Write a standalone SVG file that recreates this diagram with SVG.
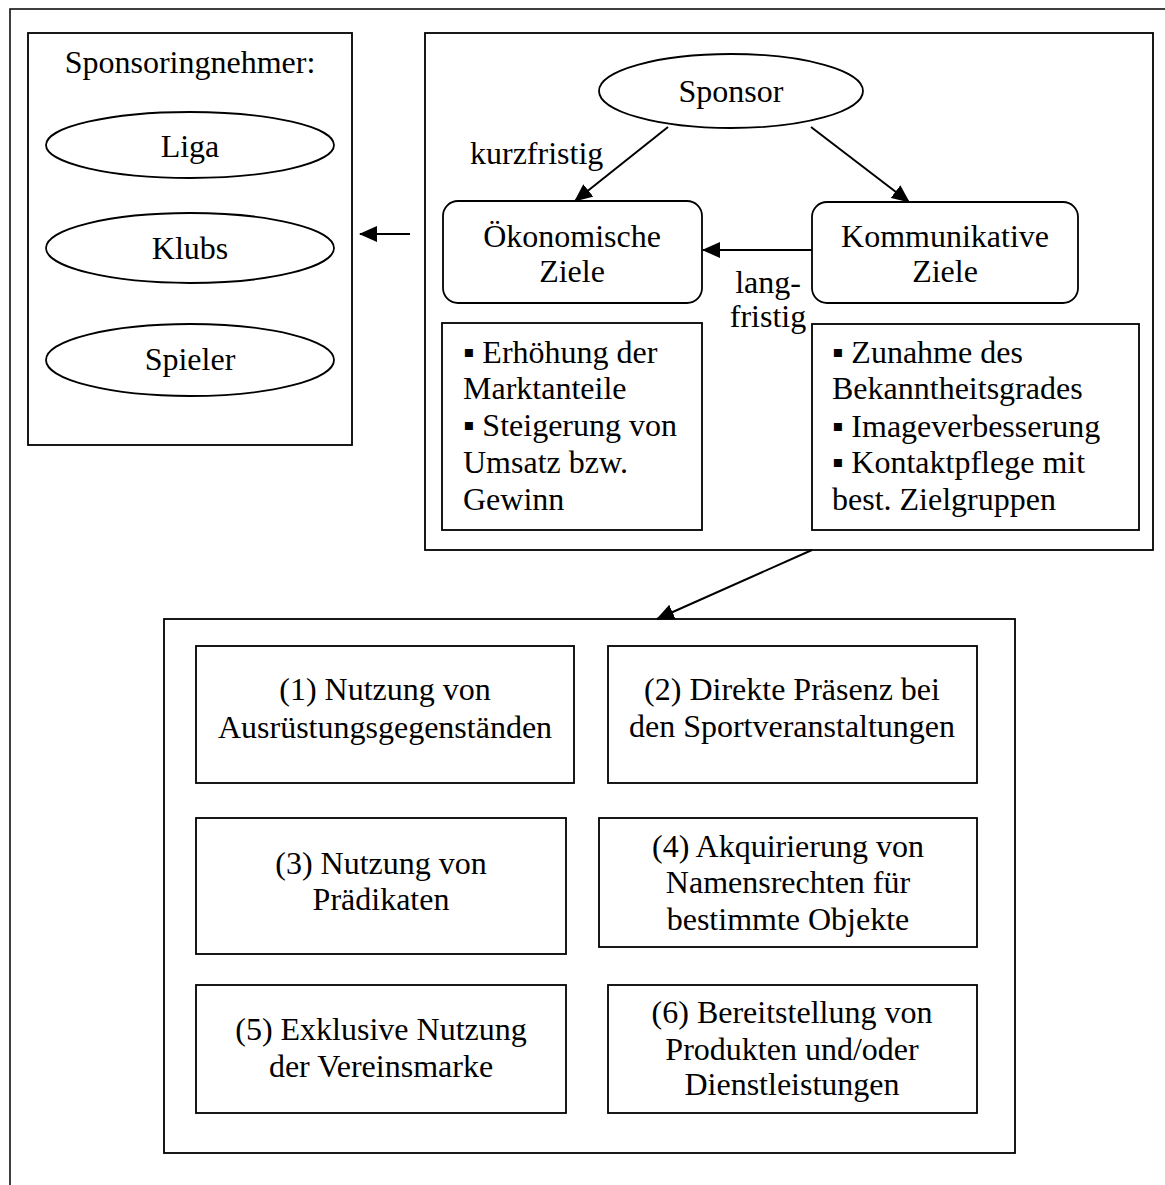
<svg xmlns="http://www.w3.org/2000/svg" width="1165" height="1185" viewBox="0 0 1165 1185">
<style>
text{font-family:"Liberation Serif","Times New Roman",serif;font-size:32px;fill:#000}
.c{text-anchor:middle}
.box{fill:#fff;stroke:#000;stroke-width:1.8}
.edge{stroke:#000;stroke-width:2;fill:none}
</style>
<defs>
<marker id="ah" markerUnits="userSpaceOnUse" markerWidth="18" markerHeight="16" refX="17" refY="8" orient="auto">
<path d="M0,0 L18,8 L0,16 Z" fill="#000"/>
</marker>
</defs>
<rect width="1165" height="1185" fill="#fff"/>
<g id="frame"><rect x="10" y="9" width="1200" height="1220" fill="none" stroke="#000" stroke-width="1.5"/></g>

<g id="nehmer">
<rect class="box" x="28" y="33" width="324" height="412"/>
<text class="c" x="190" y="73">Sponsoringnehmer:</text>
<g id="liga"><ellipse class="box" cx="190" cy="145" rx="144" ry="33"/><text class="c" x="190" y="157">Liga</text></g>
<g id="klubs"><ellipse class="box" cx="190" cy="248" rx="144" ry="35"/><text class="c" x="190" y="259">Klubs</text></g>
<g id="spieler"><ellipse class="box" cx="190" cy="360" rx="144" ry="36"/><text class="c" x="190" y="370">Spieler</text></g>
</g>

<g id="sponsorbox"><rect class="box" x="425" y="33" width="728" height="517"/></g>
<g id="sponsor"><ellipse class="box" cx="731" cy="91" rx="132" ry="37"/><text class="c" x="731" y="102">Sponsor</text></g>
<g id="oekonomisch"><rect class="box" x="443" y="201" width="259" height="102" rx="15"/><text class="c" x="572" y="247">Ökonomische</text><text class="c" x="572" y="282">Ziele</text></g>
<g id="kommunikativ"><rect class="box" x="812" y="202" width="266" height="101" rx="15"/><text class="c" x="945" y="247">Kommunikative</text><text class="c" x="945" y="282">Ziele</text></g>
<g id="oek-liste"><rect class="box" x="442" y="323" width="260" height="207"/>
<text x="463" y="363">▪ Erhöhung der</text><text x="463" y="399">Marktanteile</text><text x="463" y="436">▪ Steigerung von</text><text x="463" y="473">Umsatz bzw.</text><text x="463" y="510">Gewinn</text></g>
<g id="komm-liste"><rect class="box" x="812" y="324" width="327" height="206"/>
<text x="832" y="363">▪ Zunahme des</text><text x="832" y="399">Bekanntheitsgrades</text><text x="832" y="437">▪ Imageverbesserung</text><text x="832" y="473">▪ Kontaktpflege mit</text><text x="832" y="510">best. Zielgruppen</text></g>

<g id="massnahmen"><rect class="box" x="164" y="619" width="851" height="534"/></g>
<g id="m1"><rect class="box" x="196" y="646" width="378" height="137"/><text class="c" x="385" y="700">(1) Nutzung von</text><text class="c" x="385" y="738">Ausrüstungsgegenständen</text></g>
<g id="m2"><rect class="box" x="608" y="646" width="369" height="137"/><text class="c" x="792" y="700">(2) Direkte Präsenz bei</text><text class="c" x="792" y="737">den Sportveranstaltungen</text></g>
<g id="m3"><rect class="box" x="196" y="818" width="370" height="136"/><text class="c" x="381" y="874">(3) Nutzung von</text><text class="c" x="381" y="910">Prädikaten</text></g>
<g id="m4"><rect class="box" x="599" y="818" width="378" height="129"/><text class="c" x="788" y="857">(4) Akquirierung von</text><text class="c" x="788" y="893">Namensrechten für</text><text class="c" x="788" y="930">bestimmte Objekte</text></g>
<g id="m5"><rect class="box" x="196" y="985" width="370" height="128"/><text class="c" x="381" y="1040">(5) Exklusive Nutzung</text><text class="c" x="381" y="1077">der Vereinsmarke</text></g>
<g id="m6"><rect class="box" x="608" y="985" width="369" height="128"/><text class="c" x="792" y="1023">(6) Bereitstellung von</text><text class="c" x="792" y="1060">Produkten und/oder</text><text class="c" x="792" y="1095">Dienstleistungen</text></g>

<g id="connectors">
<line class="edge" x1="668" y1="127" x2="575" y2="201" marker-end="url(#ah)"/>
<line class="edge" x1="811" y1="127" x2="909" y2="202" marker-end="url(#ah)"/>
<line class="edge" x1="812" y1="250" x2="703" y2="250" marker-end="url(#ah)"/>
<line class="edge" x1="410" y1="234" x2="360" y2="234" marker-end="url(#ah)"/>
<line class="edge" x1="812" y1="550" x2="657" y2="619" marker-end="url(#ah)"/>
<text x="470" y="164">kurzfristig</text>
<text class="c" x="768" y="293">lang-</text>
<text class="c" x="768" y="327">fristig</text>
</g>
</svg>
